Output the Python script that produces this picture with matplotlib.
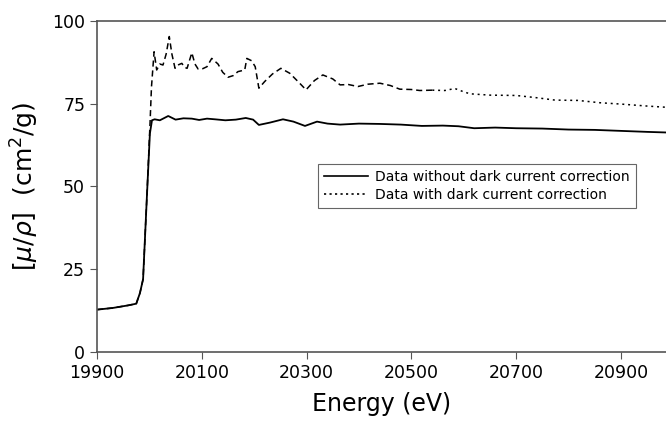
import matplotlib
matplotlib.use("Agg")
import matplotlib.pyplot as plt
from matplotlib.lines import Line2D
import numpy as np

# without dark current correction (solid)
e_raw = [19900, 19930, 19960, 19975, 19982, 19988, 19995, 20001, 20005, 20010,
         20020, 20036, 20050, 20065, 20081, 20095, 20110, 20125, 20145, 20165,
         20184, 20198, 20209, 20230, 20255, 20275, 20297, 20320, 20340, 20364,
         20400, 20440, 20480, 20520, 20560, 20590, 20620, 20660, 20700, 20750,
         20800, 20850, 20900, 20950, 20990]
mu_raw = [12.8, 13.3, 14.1, 14.6, 17.8, 22.0, 46.0, 66.0, 70.0, 70.3,
          70.0, 71.3, 70.2, 70.6, 70.5, 70.1, 70.5, 70.3, 70.0, 70.2,
          70.7, 70.2, 68.6, 69.3, 70.3, 69.6, 68.3, 69.6, 69.0, 68.7,
          69.0, 68.9, 68.7, 68.3, 68.4, 68.2, 67.6, 67.8, 67.6, 67.5,
          67.2, 67.1, 66.8, 66.5, 66.3]

# with dark current correction (dashed / dotted)
e_cor = [19900, 19930, 19960, 19975, 19982, 19988, 19995, 20001, 20004, 20009,
         20014, 20020, 20026, 20032, 20038, 20043, 20049, 20056, 20062, 20067,
         20072, 20081, 20087, 20093, 20102, 20110, 20119, 20131, 20140, 20150,
         20160, 20169, 20182, 20186, 20195, 20202, 20209, 20220, 20235, 20251,
         20268, 20285, 20299, 20315, 20331, 20350, 20364, 20380, 20398, 20417,
         20440, 20460, 20478, 20500, 20516, 20540, 20564, 20583, 20600, 20612,
         20650, 20700, 20740, 20774, 20818, 20860, 20900, 20950, 20990]
mu_cor = [12.8, 13.3, 14.1, 14.6, 17.8, 22.0, 46.0, 68.0, 80.0, 90.7,
          85.2, 87.0, 86.7, 90.0, 95.3, 90.0, 85.7, 86.8, 87.2, 86.0,
          85.7, 90.4, 87.0, 85.5, 85.6, 86.2, 88.7, 87.0, 84.5, 83.0,
          83.5, 84.7, 85.2, 88.7, 88.0, 86.2, 79.7, 81.7, 84.0, 85.7,
          84.2, 81.5, 79.2, 82.0, 83.7, 82.5, 80.7, 80.8, 80.2, 80.9,
          81.2, 80.5, 79.4, 79.3, 79.0, 79.1, 79.0, 79.6, 78.6, 78.0,
          77.6, 77.5, 76.8, 76.1, 76.0, 75.3, 74.9, 74.3, 73.9]

x_ticks = [19900, 20100, 20300, 20500, 20700, 20900]
y_ticks = [0, 25, 50, 75, 100]

fig = plt.figure(figsize=(6.66, 4.24), dpi=100)
ax = fig.add_axes([0.1456, 0.1698, 0.8544, 0.7807])

e_cor = np.array(e_cor)
mu_cor = np.array(mu_cor)
split = np.searchsorted(e_cor, 20540)
ax.plot(e_cor[:split + 1], mu_cor[:split + 1], color='black', lw=1.1,
        ls=(0, (4, 2.5)))
ax.plot(e_cor[split:], mu_cor[split:], color='black', lw=1.1,
        ls=(0, (1.3, 2.5)))
ax.plot(e_raw, mu_raw, color='black', lw=1.3)

ax.set_xlim(19900, 20986)
ax.set_ylim(0, 100)
ax.set_xticks(x_ticks)
ax.set_yticks(y_ticks)
ax.tick_params(labelsize=12.5, direction='out', length=5, color='#555555')
ax.set_xlabel('Energy (eV)', fontsize=17, labelpad=7)
ax.set_ylabel(r'$[\mu/\rho]$  (cm$^2$/g)', fontsize=18, labelpad=8)

ax.spines['right'].set_visible(False)
for s in ['left', 'bottom', 'top']:
    ax.spines[s].set_color('#555555')
    ax.spines[s].set_linewidth(1.2)

handles = [Line2D([], [], color='black', lw=1.2),
           Line2D([], [], color='black', lw=1.2, ls=(0, (1.3, 2.0)))]
leg = ax.legend(handles, ['Data without dark current correction',
                          'Data with dark current correction'],
                loc='upper left', bbox_to_anchor=(0.388, 0.568),
                borderaxespad=0, fontsize=10, handlelength=3.2,
                fancybox=False, framealpha=1, edgecolor='#666666',
                borderpad=0.45, labelspacing=0.25, handletextpad=0.5)
leg.get_frame().set_linewidth(0.8)

fig.savefig('out.png', dpi=100)
